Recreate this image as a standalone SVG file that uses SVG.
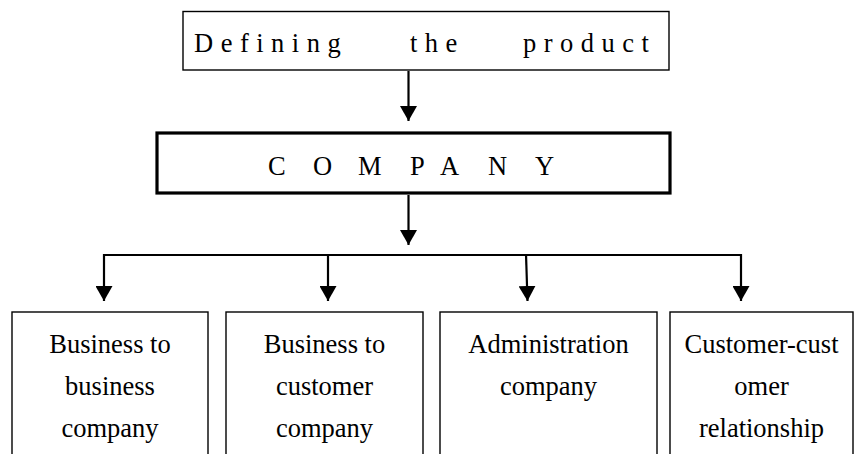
<svg xmlns="http://www.w3.org/2000/svg" width="854" height="454" viewBox="0 0 854 454">
  <style>
    .box { fill: #ffffff; stroke: #000000; stroke-width: 1.4; }
    .main { fill: #ffffff; stroke: #000000; stroke-width: 3.2; }
    .lbl { font-family: "Liberation Serif", "Times New Roman", serif; font-size: 26.5px; fill: #000000; }
    .mid { text-anchor: middle; }
    .wire { fill: none; stroke: #000000; stroke-width: 2.2; }
  </style>
  <defs>
    <marker id="head" markerUnits="userSpaceOnUse" markerWidth="16" markerHeight="17" viewBox="0 0 16 17" refX="15" refY="8.5" orient="auto">
      <path d="M0,0 L15,8.5 L0,17 z" fill="#000000"/>
    </marker>
  </defs>
  <rect width="854" height="454" fill="#ffffff"/>

  <g id="node-defining">
    <rect class="box" x="183" y="11.5" width="486" height="58.5"/>
    <text class="lbl" y="52" letter-spacing="7.5"><tspan x="194">Defining</tspan> <tspan x="410">the</tspan> <tspan x="523">product</tspan></text>
  </g>

  <g id="node-company">
    <rect class="main" x="157" y="133" width="513" height="60"/>
    <text class="lbl" y="175" font-size="26" x="268 290 313 338 358 382 410 425 440 465 488 512 535">C O M P A N Y</text>
  </g>

  <g id="node-b2b">
    <rect class="box" x="12" y="312" width="196" height="160"/>
    <text class="lbl mid" x="110" y="353">Business to</text>
    <text class="lbl mid" x="110" y="395">business</text>
    <text class="lbl mid" x="110" y="437">company</text>
  </g>

  <g id="node-b2c">
    <rect class="box" x="226" y="312" width="197" height="160"/>
    <text class="lbl mid" x="324.5" y="353">Business to</text>
    <text class="lbl mid" x="324.5" y="395">customer</text>
    <text class="lbl mid" x="324.5" y="437">company</text>
  </g>

  <g id="node-admin">
    <rect class="box" x="440" y="312" width="217" height="160"/>
    <text class="lbl mid" x="548.5" y="353">Administration</text>
    <text class="lbl mid" x="548.5" y="395">company</text>
  </g>

  <g id="node-c2c">
    <rect class="box" x="670" y="312" width="183" height="160"/>
    <text class="lbl mid" x="761.5" y="353">Customer-cust</text>
    <text class="lbl mid" x="761.5" y="395">omer</text>
    <text class="lbl mid" x="761.5" y="437">relationship</text>
  </g>

  <g id="connectors">
    <line class="wire" x1="408.5" y1="71" x2="408.5" y2="121" marker-end="url(#head)"/>
    <line class="wire" x1="408.5" y1="195" x2="408.5" y2="245" marker-end="url(#head)"/>
    <line class="wire" x1="103" y1="255" x2="742" y2="255"/>
    <line class="wire" x1="104" y1="254" x2="104" y2="301" marker-end="url(#head)"/>
    <line class="wire" x1="328" y1="254" x2="328" y2="301" marker-end="url(#head)"/>
    <line class="wire" x1="526" y1="254" x2="527.5" y2="301" marker-end="url(#head)"/>
    <line class="wire" x1="741" y1="254" x2="741" y2="301" marker-end="url(#head)"/>
  </g>
</svg>
